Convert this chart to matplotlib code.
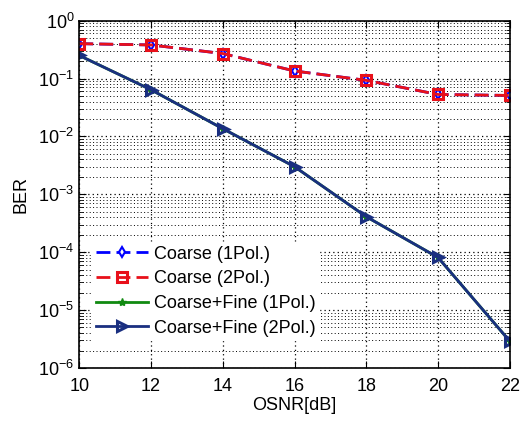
import matplotlib
matplotlib.use('Agg')
import matplotlib.pyplot as plt
from matplotlib.ticker import LogLocator, NullFormatter

plt.rcParams['font.family'] = ['Liberation Sans', 'DejaVu Sans']
plt.rcParams['mathtext.fontset'] = 'custom'
plt.rcParams['mathtext.rm'] = 'Liberation Sans'
plt.rcParams['mathtext.it'] = 'Liberation Sans'

# data
osnr = [10, 12, 14, 16, 18, 20, 22]
ber_coarse_1pol = [0.40, 0.38, 0.27, 0.135, 0.093, 0.053, 0.051]
ber_coarse_2pol = [0.40, 0.38, 0.27, 0.135, 0.093, 0.053, 0.051]
ber_fine_1pol = [0.25, 0.064, 0.0136, 0.0030, 4.1e-4, 8.1e-5, 2.9e-6]
ber_fine_2pol = [0.25, 0.064, 0.0136, 0.0030, 4.1e-4, 8.1e-5, 2.9e-6]
labels = ['Coarse (1Pol.)', 'Coarse (2Pol.)', 'Coarse+Fine (1Pol.)', 'Coarse+Fine (2Pol.)']

fig = plt.figure(figsize=(5.25, 4.21), dpi=100)
ax = fig.add_axes([0.151, 0.126, 0.82, 0.825])

ax.semilogy(osnr, ber_coarse_1pol, '--', color='#0000ff', lw=2, dashes=(5, 2.2), marker='d',
            ms=5.5, mfc='white', mec='#0000ff', mew=1.5, label=labels[0])
ax.semilogy(osnr, ber_coarse_2pol, '--', color='#e8101a', lw=2, dashes=(5, 2.2), marker='s',
            ms=7, mfc='none', mec='#e8101a', mew=2.2, label=labels[1])
ax.semilogy(osnr, ber_fine_1pol, '-', color='#108a10', lw=2, marker='*',
            ms=6, mfc='#108a10', mec='#108a10', label=labels[2])
ax.semilogy(osnr, ber_fine_2pol, '-', color='#1a2f80', lw=2, marker='>',
            ms=6.5, mfc='none', mec='#1a2f80', mew=2.2, label=labels[3])

ax.set_xlim(10, 22)
ax.set_ylim(1e-6, 1)
ax.set_xticks(osnr)
ax.yaxis.set_major_locator(LogLocator(base=10, numticks=10))
ax.yaxis.set_minor_locator(LogLocator(base=10, subs=range(2, 10), numticks=20))
ax.yaxis.set_minor_formatter(NullFormatter())

ax.grid(True, which='major', axis='both', ls=(0, (1, 2.5)), color='black', lw=0.9)
ax.grid(True, which='minor', axis='y', ls=(0, (1, 2.5)), color='black', lw=0.7)
ax.tick_params(which='both', direction='in', top=True, right=True, labelsize=13)
ax.tick_params(axis='x', pad=7)
ax.tick_params(which='major', length=5)
ax.tick_params(which='minor', length=3)
for s in ax.spines.values():
    s.set_linewidth(1.2)

ax.set_xlabel('OSNR[dB]', fontsize=13, labelpad=2)
ax.set_ylabel('BER', fontsize=13, labelpad=6)

leg = ax.legend(loc='lower left', bbox_to_anchor=(0.03, 0.08), fontsize=13,
                frameon=True, fancybox=False, handlelength=2.9, handletextpad=0.3,
                labelspacing=0.42, borderpad=0.2, borderaxespad=0.0)
leg.get_frame().set_edgecolor('white')
leg.get_frame().set_alpha(1)

fig.savefig('out.png', dpi=100)
